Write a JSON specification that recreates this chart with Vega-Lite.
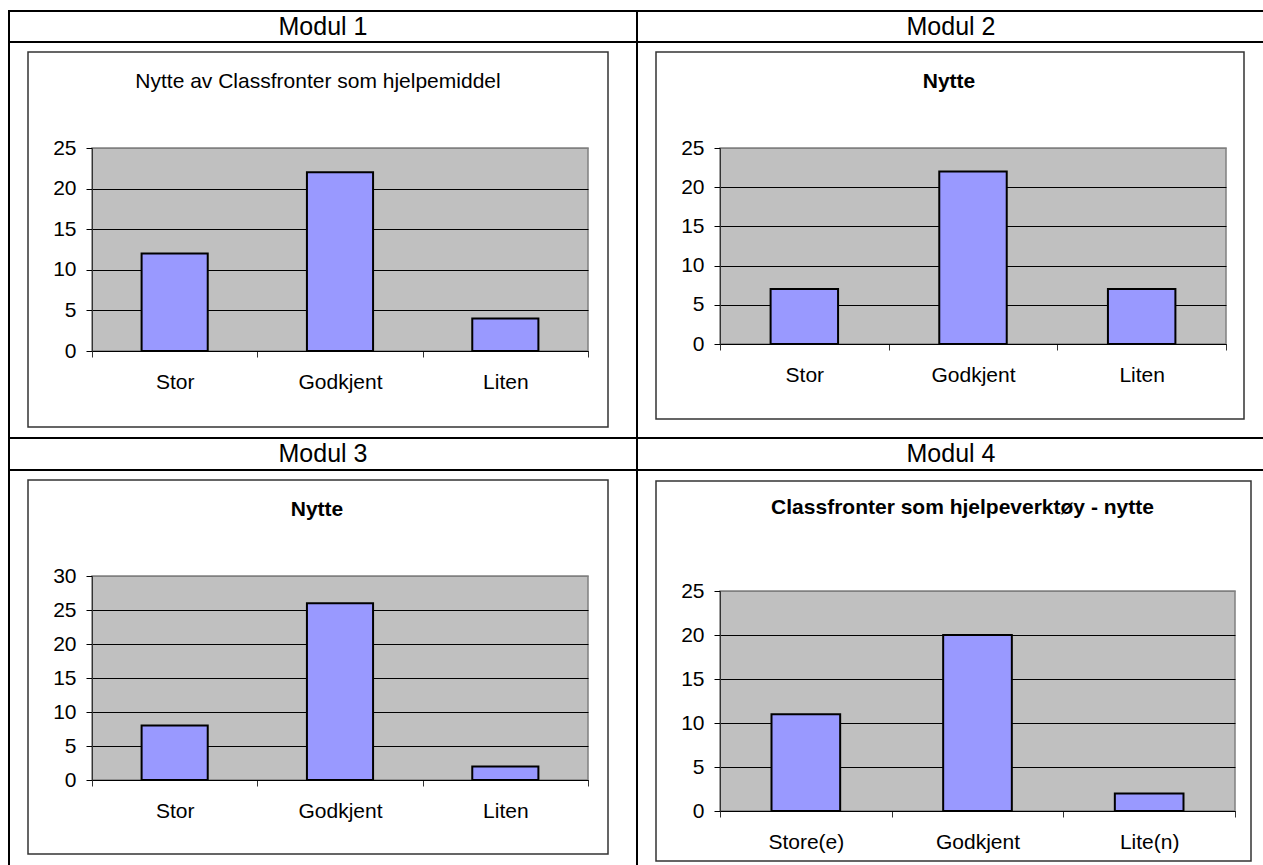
{
  "$schema": "https://vega.github.io/schema/vega-lite/v6.json",
  "background": "white",
  "padding": {"left": 7, "top": 9, "right": 0, "bottom": 0},
  "datasets": {
    "modul1": [{"kategori": "Stor", "antall": 12}, {"kategori": "Godkjent", "antall": 22}, {"kategori": "Liten", "antall": 4}],
    "modul2": [{"kategori": "Stor", "antall": 7}, {"kategori": "Godkjent", "antall": 22}, {"kategori": "Liten", "antall": 7}],
    "modul3": [{"kategori": "Stor", "antall": 8}, {"kategori": "Godkjent", "antall": 26}, {"kategori": "Liten", "antall": 2}],
    "modul4": [{"kategori": "Store(e)", "antall": 11}, {"kategori": "Godkjent", "antall": 20}, {"kategori": "Lite(n)", "antall": 2}],
    "ramme": [{"del": "ramme"}]
  },
  "config": {
    "font": "Liberation Sans",
    "view": {"fill": "#C0C0C0", "stroke": "#808080", "strokeWidth": 1.5},
    "axis": {"labelFont": "Liberation Sans", "labelFontSize": 21, "labelColor": "black"}
  },
  "spacing": -4,
  "hconcat": [
    {
      "spacing": -4,
      "vconcat": [
        {
          "width": 496, "height": 203,
          "title": {"text": "Nytte av Classfronter som hjelpemiddel", "fontSize": 21, "fontWeight": "normal", "color": "black", "baseline": "middle", "anchor": "middle", "frame": "group", "offset": -93, "dx": -22},
          "resolve": {"scale": {"x": "independent", "y": "independent"}},
          "layer": [
            {"data": {"values": [{"modul": "Modul 1"}]},
             "layer": [
               {"mark": {"type": "rect", "fill": null, "stroke": "black", "strokeWidth": 2},
                "encoding": {"x": {"datum": 0, "type": "quantitative", "scale": {"domain": [0, 1], "range": [-83, 545], "nice": false, "zero": false}, "axis": null}, "x2": {"datum": 1},
                             "y": {"datum": 0, "type": "quantitative", "scale": {"domain": [0, 1], "range": [-106, -137], "nice": false, "zero": false}, "axis": null}, "y2": {"datum": 1}}},
               {"mark": {"type": "text", "fontSize": 25, "color": "black", "baseline": "middle"},
                "encoding": {"x": {"datum": 0.5, "type": "quantitative", "scale": {"domain": [0, 1], "range": [-83, 545], "nice": false, "zero": false}, "axis": null},
                             "y": {"datum": 0.5, "type": "quantitative", "scale": {"domain": [0, 1], "range": [-106, -137], "nice": false, "zero": false}, "axis": null},
                             "text": {"field": "modul"}}}
             ]},
            {"data": {"name": "ramme"}, "mark": {"type": "rect", "fill": null, "stroke": "black", "strokeWidth": 2},
             "encoding": {"x": {"datum": 0, "type": "quantitative", "scale": {"domain": [0, 1], "range": [-83, 545], "nice": false, "zero": false}, "axis": null}, "x2": {"datum": 1},
                          "y": {"datum": 0, "type": "quantitative", "scale": {"domain": [0, 1], "range": [290, -106], "nice": false, "zero": false}, "axis": null}, "y2": {"datum": 1}}},
            {"data": {"name": "ramme"}, "mark": {"type": "rect", "fill": null, "stroke": "#333333", "strokeWidth": 1.5},
             "encoding": {"x": {"datum": 0, "type": "quantitative", "scale": {"domain": [0, 1], "range": [-64, 516], "nice": false, "zero": false}, "axis": null}, "x2": {"datum": 1},
                          "y": {"datum": 0, "type": "quantitative", "scale": {"domain": [0, 1], "range": [279, -96], "nice": false, "zero": false}, "axis": null}, "y2": {"datum": 1}}},
            {"data": {"name": "modul1"}, "mark": {"type": "bar", "width": {"band": 0.4}, "fill": "#9999FF", "stroke": "black", "strokeWidth": 2},
             "encoding": {
               "x": {"field": "kategori", "type": "nominal", "sort": null, "scale": {"paddingInner": 0, "paddingOuter": 0},
                     "axis": {"orient": "bottom", "title": null, "labelAngle": 0, "tickBand": "extent", "tickSize": 6, "tickColor": "#333333", "domainColor": "black", "domainWidth": 1, "labelPadding": 14, "labelBaseline": "top", "grid": false}},
               "y": {"field": "antall", "type": "quantitative", "scale": {"domain": [0, 25], "nice": false},
                     "axis": {"orient": "left", "title": null, "values": [0, 5, 10, 15, 20, 25], "grid": true, "gridColor": {"expr": "datum.value == 25 ? '#808080' : 'black'"}, "gridWidth": 1, "tickSize": 6, "tickColor": "black", "domainColor": "#333333", "labelPadding": 10}}
             }}
          ]
        },
        {
          "width": 496, "height": 204,
          "title": {"text": "Nytte", "fontSize": 21, "fontWeight": "bold", "color": "black", "baseline": "middle", "anchor": "middle", "frame": "group", "offset": -94, "dx": -23},
          "resolve": {"scale": {"x": "independent", "y": "independent"}},
          "layer": [
            {"data": {"values": [{"modul": "Modul 3"}]},
             "layer": [
               {"mark": {"type": "rect", "fill": null, "stroke": "black", "strokeWidth": 2},
                "encoding": {"x": {"datum": 0, "type": "quantitative", "scale": {"domain": [0, 1], "range": [-83, 545], "nice": false, "zero": false}, "axis": null}, "x2": {"datum": 1},
                             "y": {"datum": 0, "type": "quantitative", "scale": {"domain": [0, 1], "range": [-106, -138], "nice": false, "zero": false}, "axis": null}, "y2": {"datum": 1}}},
               {"mark": {"type": "text", "fontSize": 25, "color": "black", "baseline": "middle"},
                "encoding": {"x": {"datum": 0.5, "type": "quantitative", "scale": {"domain": [0, 1], "range": [-83, 545], "nice": false, "zero": false}, "axis": null},
                             "y": {"datum": 0.5, "type": "quantitative", "scale": {"domain": [0, 1], "range": [-106, -138], "nice": false, "zero": false}, "axis": null},
                             "text": {"field": "modul"}}}
             ]},
            {"data": {"name": "ramme"}, "mark": {"type": "rect", "fill": null, "stroke": "black", "strokeWidth": 2},
             "encoding": {"x": {"datum": 0, "type": "quantitative", "scale": {"domain": [0, 1], "range": [-83, 545], "nice": false, "zero": false}, "axis": null}, "x2": {"datum": 1},
                          "y": {"datum": 0, "type": "quantitative", "scale": {"domain": [0, 1], "range": [294, -106], "nice": false, "zero": false}, "axis": null}, "y2": {"datum": 1}}},
            {"data": {"name": "ramme"}, "mark": {"type": "rect", "fill": null, "stroke": "#333333", "strokeWidth": 1.5},
             "encoding": {"x": {"datum": 0, "type": "quantitative", "scale": {"domain": [0, 1], "range": [-64, 516], "nice": false, "zero": false}, "axis": null}, "x2": {"datum": 1},
                          "y": {"datum": 0, "type": "quantitative", "scale": {"domain": [0, 1], "range": [278, -96], "nice": false, "zero": false}, "axis": null}, "y2": {"datum": 1}}},
            {"data": {"name": "modul3"}, "mark": {"type": "bar", "width": {"band": 0.4}, "fill": "#9999FF", "stroke": "black", "strokeWidth": 2},
             "encoding": {
               "x": {"field": "kategori", "type": "nominal", "sort": null, "scale": {"paddingInner": 0, "paddingOuter": 0},
                     "axis": {"orient": "bottom", "title": null, "labelAngle": 0, "tickBand": "extent", "tickSize": 6, "tickColor": "#333333", "domainColor": "black", "domainWidth": 1, "labelPadding": 14, "labelBaseline": "top", "grid": false}},
               "y": {"field": "antall", "type": "quantitative", "scale": {"domain": [0, 30], "nice": false},
                     "axis": {"orient": "left", "title": null, "values": [0, 5, 10, 15, 20, 25, 30], "grid": true, "gridColor": {"expr": "datum.value == 30 ? '#808080' : 'black'"}, "gridWidth": 1, "tickSize": 6, "tickColor": "black", "domainColor": "#333333", "labelPadding": 10}}
             }}
          ]
        }
      ]
    },
    {
      "spacing": -4,
      "vconcat": [
        {
          "width": 506, "height": 196,
          "title": {"text": "Nytte", "fontSize": 21, "fontWeight": "bold", "color": "black", "baseline": "middle", "anchor": "middle", "frame": "group", "offset": -93, "dx": -24},
          "resolve": {"scale": {"x": "independent", "y": "independent"}},
          "layer": [
            {"data": {"values": [{"modul": "Modul 2"}]},
             "layer": [
               {"mark": {"type": "rect", "fill": null, "stroke": "black", "strokeWidth": 2},
                "encoding": {"x": {"datum": 0, "type": "quantitative", "scale": {"domain": [0, 1], "range": [-83, 545], "nice": false, "zero": false}, "axis": null}, "x2": {"datum": 1},
                             "y": {"datum": 0, "type": "quantitative", "scale": {"domain": [0, 1], "range": [-106, -137], "nice": false, "zero": false}, "axis": null}, "y2": {"datum": 1}}},
               {"mark": {"type": "text", "fontSize": 25, "color": "black", "baseline": "middle"},
                "encoding": {"x": {"datum": 0.5, "type": "quantitative", "scale": {"domain": [0, 1], "range": [-83, 545], "nice": false, "zero": false}, "axis": null},
                             "y": {"datum": 0.5, "type": "quantitative", "scale": {"domain": [0, 1], "range": [-106, -137], "nice": false, "zero": false}, "axis": null},
                             "text": {"field": "modul"}}}
             ]},
            {"data": {"name": "ramme"}, "mark": {"type": "rect", "fill": null, "stroke": "black", "strokeWidth": 2},
             "encoding": {"x": {"datum": 0, "type": "quantitative", "scale": {"domain": [0, 1], "range": [-83, 545], "nice": false, "zero": false}, "axis": null}, "x2": {"datum": 1},
                          "y": {"datum": 0, "type": "quantitative", "scale": {"domain": [0, 1], "range": [290, -106], "nice": false, "zero": false}, "axis": null}, "y2": {"datum": 1}}},
            {"data": {"name": "ramme"}, "mark": {"type": "rect", "fill": null, "stroke": "#333333", "strokeWidth": 1.5},
             "encoding": {"x": {"datum": 0, "type": "quantitative", "scale": {"domain": [0, 1], "range": [-64, 524], "nice": false, "zero": false}, "axis": null}, "x2": {"datum": 1},
                          "y": {"datum": 0, "type": "quantitative", "scale": {"domain": [0, 1], "range": [271, -96], "nice": false, "zero": false}, "axis": null}, "y2": {"datum": 1}}},
            {"data": {"name": "modul2"}, "mark": {"type": "bar", "width": {"band": 0.4}, "fill": "#9999FF", "stroke": "black", "strokeWidth": 2},
             "encoding": {
               "x": {"field": "kategori", "type": "nominal", "sort": null, "scale": {"paddingInner": 0, "paddingOuter": 0},
                     "axis": {"orient": "bottom", "title": null, "labelAngle": 0, "tickBand": "extent", "tickSize": 6, "tickColor": "#333333", "domainColor": "black", "domainWidth": 1, "labelPadding": 14, "labelBaseline": "top", "grid": false}},
               "y": {"field": "antall", "type": "quantitative", "scale": {"domain": [0, 25], "nice": false},
                     "axis": {"orient": "left", "title": null, "values": [0, 5, 10, 15, 20, 25], "grid": true, "gridColor": {"expr": "datum.value == 25 ? '#808080' : 'black'"}, "gridWidth": 1, "tickSize": 6, "tickColor": "black", "domainColor": "#333333", "labelPadding": 10}}
             }}
          ]
        },
        {
          "width": 515, "height": 220,
          "title": {"text": "Classfronter som hjelpeverktøy - nytte", "fontSize": 21, "fontWeight": "bold", "color": "black", "baseline": "middle", "anchor": "middle", "frame": "group", "offset": -92, "dx": -15},
          "resolve": {"scale": {"x": "independent", "y": "independent"}},
          "layer": [
            {"data": {"values": [{"modul": "Modul 4"}]},
             "layer": [
               {"mark": {"type": "rect", "fill": null, "stroke": "black", "strokeWidth": 2},
                "encoding": {"x": {"datum": 0, "type": "quantitative", "scale": {"domain": [0, 1], "range": [-83, 545], "nice": false, "zero": false}, "axis": null}, "x2": {"datum": 1},
                             "y": {"datum": 0, "type": "quantitative", "scale": {"domain": [0, 1], "range": [-121, -153], "nice": false, "zero": false}, "axis": null}, "y2": {"datum": 1}}},
               {"mark": {"type": "text", "fontSize": 25, "color": "black", "baseline": "middle"},
                "encoding": {"x": {"datum": 0.5, "type": "quantitative", "scale": {"domain": [0, 1], "range": [-83, 545], "nice": false, "zero": false}, "axis": null},
                             "y": {"datum": 0.5, "type": "quantitative", "scale": {"domain": [0, 1], "range": [-121, -153], "nice": false, "zero": false}, "axis": null},
                             "text": {"field": "modul"}}}
             ]},
            {"data": {"name": "ramme"}, "mark": {"type": "rect", "fill": null, "stroke": "black", "strokeWidth": 2},
             "encoding": {"x": {"datum": 0, "type": "quantitative", "scale": {"domain": [0, 1], "range": [-83, 545], "nice": false, "zero": false}, "axis": null}, "x2": {"datum": 1},
                          "y": {"datum": 0, "type": "quantitative", "scale": {"domain": [0, 1], "range": [279, -121], "nice": false, "zero": false}, "axis": null}, "y2": {"datum": 1}}},
            {"data": {"name": "ramme"}, "mark": {"type": "rect", "fill": null, "stroke": "#333333", "strokeWidth": 1.5},
             "encoding": {"x": {"datum": 0, "type": "quantitative", "scale": {"domain": [0, 1], "range": [-64, 531], "nice": false, "zero": false}, "axis": null}, "x2": {"datum": 1},
                          "y": {"datum": 0, "type": "quantitative", "scale": {"domain": [0, 1], "range": [270, -110], "nice": false, "zero": false}, "axis": null}, "y2": {"datum": 1}}},
            {"data": {"name": "modul4"}, "mark": {"type": "bar", "width": {"band": 0.4}, "fill": "#9999FF", "stroke": "black", "strokeWidth": 2},
             "encoding": {
               "x": {"field": "kategori", "type": "nominal", "sort": null, "scale": {"paddingInner": 0, "paddingOuter": 0},
                     "axis": {"orient": "bottom", "title": null, "labelAngle": 0, "tickBand": "extent", "tickSize": 6, "tickColor": "#333333", "domainColor": "black", "domainWidth": 1, "labelPadding": 14, "labelBaseline": "top", "grid": false}},
               "y": {"field": "antall", "type": "quantitative", "scale": {"domain": [0, 25], "nice": false},
                     "axis": {"orient": "left", "title": null, "values": [0, 5, 10, 15, 20, 25], "grid": true, "gridColor": {"expr": "datum.value == 25 ? '#808080' : 'black'"}, "gridWidth": 1, "tickSize": 6, "tickColor": "black", "domainColor": "#333333", "labelPadding": 10}}
             }}
          ]
        }
      ]
    }
  ]
}
